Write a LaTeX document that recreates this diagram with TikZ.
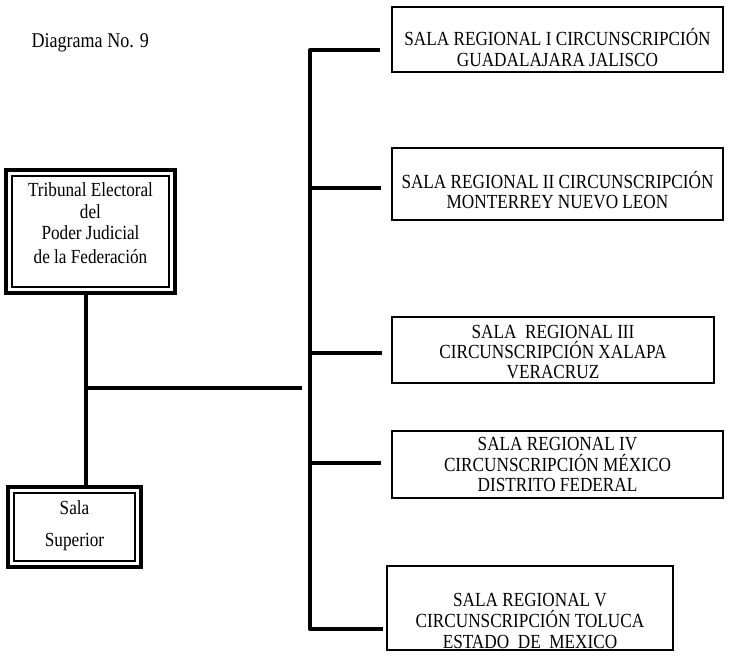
\documentclass[tikz,border=0pt]{standalone}
\usepackage{fontspec}
\setmainfont{Liberation Serif}[FakeStretch=0.86]
\newcommand{\padtop}[1]{\rule{0pt}{#1}}
\newcommand{\padbot}[1]{\rule[-#1]{0pt}{#1}}

\begin{document}
\begin{tikzpicture}[x=1pt, y=-1pt,
        sala/.style={draw, line width=1.6pt, inner sep=0pt, align=center, font=\fontsize{20}{21}\selectfont},
        organo/.style={draw, line width=4pt, inner sep=0pt, align=center, font=\fontsize{20}{21.5}\selectfont,
            path picture={\draw[line width=1.5pt] ([shift={(6pt,-6pt)}]path picture bounding box.north west)
                rectangle ([shift={(-6pt,6pt)}]path picture bounding box.south east);}},
        bar/.style={line width=4pt, line join=round}]
    \useasboundingbox (0,0) rectangle (735,656);

    \node[anchor=base west, font=\fontsize{21}{24}\selectfont] (titulo) at (28,47) {Diagrama No. 9};

    % left side
    \node[organo, minimum width=169, minimum height=123] (tribunal) at (90.5,231.5)
        {\padtop{14pt}Tribunal Electoral\\del\\Poder Judicial\\[2.5pt]de la Federación\padbot{16.8pt}};
    \node[organo, minimum width=133, minimum height=80, font=\fontsize{20}{32}\selectfont] (superior) at (74.5,527)
        {\padtop{14pt}Sala\\Superior\padbot{6.8pt}};

    % salas regionales
    \node[sala, minimum width=331, minimum height=65] (r1) at (557.5,39.5)
        {\padtop{37.2pt}SALA REGIONAL I CIRCUNSCRIPCIÓN\\GUADALAJARA JALISCO\padbot{4pt}};
    \node[sala, minimum width=331, minimum height=72, font=\fontsize{20}{20}\selectfont] (r2) at (557.5,184)
        {\padtop{33.2pt}SALA REGIONAL II CIRCUNSCRIPCIÓN\\MONTERREY NUEVO LEON\padbot{4pt}};
    \node[sala, minimum width=322, minimum height=66, font=\fontsize{20}{20}\selectfont] (r3) at (553,350)
        {\padtop{21.2pt}SALA\ \ REGIONAL III\\CIRCUNSCRIPCIÓN XALAPA\\VERACRUZ\padbot{4pt}};
    \node[sala, minimum width=331, minimum height=67, font=\fontsize{20}{20.5}\selectfont] (r4) at (557.5,464.5)
        {\padtop{17.2pt}SALA REGIONAL IV\\CIRCUNSCRIPCIÓN MÉXICO\\DISTRITO FEDERAL\padbot{4pt}};
    \node[sala, minimum width=286, minimum height=84, font=\fontsize{20}{21}\selectfont] (r5) at (530,608)
        {\padtop{39.2pt}SALA REGIONAL V\\CIRCUNSCRIPCIÓN TOLUCA\\ESTADO\ \ DE\ \ MEXICO};

    % connectors
    \coordinate (s1) at (380,50);
    \coordinate (s2) at (381,188);
    \coordinate (s3) at (382,353);
    \coordinate (s4) at (381,463);
    \coordinate (s5) at (383,629);
    \coordinate (bus) at (310,629);
    \coordinate (join) at (86,388);
    \coordinate (s0) at (302,388);

    \draw[bar] (s1) -| (bus) -- (s5);
    \foreach \s in {s2,s3,s4}
        \draw[bar] (\s -| bus) -- (\s);
    \draw[bar] (tribunal.south -| join) -- (superior.north -| join);
    \draw[bar] (join) -- (s0);
\end{tikzpicture}
\end{document}
